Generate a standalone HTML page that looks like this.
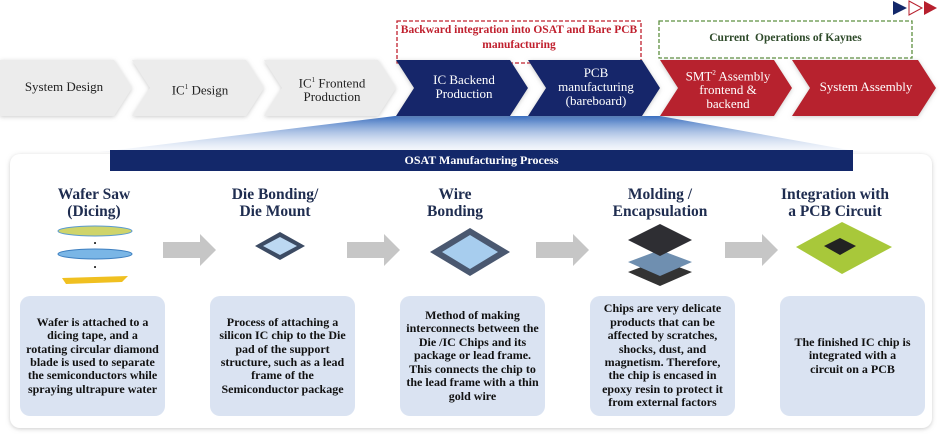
<!DOCTYPE html>
<html><head><meta charset="utf-8"><style>
body{margin:0;width:940px;height:436px;overflow:hidden;background:#fff;font-family:"Liberation Serif",serif;position:relative}
.abs{position:absolute}
.t{position:absolute;text-align:center;color:#1f2d50;font-weight:bold;font-size:15.5px;line-height:17px;width:180px}
.box{position:absolute;top:296px;height:120px;width:145px;box-sizing:border-box;padding:0 6px;background:#dae3f2;border-radius:10px;display:flex;align-items:center;justify-content:center;text-align:center;font-weight:bold;font-size:12px;line-height:13.4px;color:#111}
.c{position:absolute;text-align:center;font-size:13px;line-height:14px;width:120px}
</style></head><body>
<svg class="abs" style="left:0;top:0" width="940" height="436">
<defs>
<linearGradient id="g" x1="0" y1="0" x2="0" y2="1"><stop offset="0" stop-color="#3a6fc0"/><stop offset="1" stop-color="#e8eef8" stop-opacity="0.3"/></linearGradient>
<filter id="sh" x="-5%" y="-5%" width="110%" height="115%"><feDropShadow dx="0" dy="1" stdDeviation="2" flood-color="#999" flood-opacity="0.5"/></filter>
</defs>
<polygon points="893,1 907,8 893,15" fill="#13286a"/>
<polygon points="909,1 922,8 909,15" fill="#fff" stroke="#b7202e" stroke-width="1"/>
<polygon points="924,1 937,8 924,15" fill="#b7202e"/>
<rect x="397" y="21" width="244" height="42" fill="none" stroke="#c0202e" stroke-width="1.3" stroke-dasharray="4,2"/>
<rect x="659" y="21" width="253" height="37" fill="none" stroke="#5e9040" stroke-width="1.3" stroke-dasharray="4,2"/>
<polygon points="395,116 660,116 860,152 100,152" fill="url(#g)"/>
<g filter="url(#sh)">
<polygon points="0,60 114,60 132,88 114,116 0,116" fill="#ececec"/>
<polygon points="132,60 246,60 264,88 246,116 132,116 150,88" fill="#ececec"/>
<polygon points="264,60 378,60 396,88 378,116 264,116 282,88" fill="#ececec"/>
<polygon points="396,60 510,60 528,88 510,116 396,116 414,88" fill="#13286a"/>
<polygon points="528,60 642,60 660,88 642,116 528,116 546,88" fill="#13286a"/>
<polygon points="660,60 774,60 792,88 774,116 660,116 678,88" fill="#b7202e"/>
<polygon points="792,60 918,60 936,88 918,116 792,116 810,88" fill="#b7202e"/>
<rect x="10" y="154" width="922" height="274" rx="10" fill="#fff"/>
</g>
<rect x="110" y="150" width="743" height="21" fill="#13286a"/>
<g fill="#c6c6c6">
<polygon points="163,242 200,242 200,234 216,250 200,266 200,258 163,258"/>
<polygon points="347,242 384,242 384,234 400,250 384,266 384,258 347,258"/>
<polygon points="536,242 573,242 573,234 589,250 573,266 573,258 536,258"/>
<polygon points="725,242 762,242 762,234 778,250 762,266 762,258 725,258"/>
</g>
<ellipse cx="95" cy="231" rx="37" ry="5" fill="#cfd46a" stroke="#5a9ad0"/>
<text x="95" y="246" font-size="8" text-anchor="middle">•</text>
<ellipse cx="95" cy="254" rx="37" ry="5" fill="#7ab6e6" stroke="#3d7fc0"/>
<text x="95" y="270" font-size="8" text-anchor="middle">•</text>
<polygon points="62,278 128,276 122,282 66,284" fill="#f0c020"/>
<polygon points="280,232 305,246 280,260 255,246" fill="#3c4b63"/>
<polygon points="280,237 297,246 280,255 263,246" fill="#bcd8f2"/>
<polygon points="470,228 510,252 470,276 430,252" fill="#4a5870"/>
<polygon points="470,235 498,252 470,269 442,252" fill="#a7cdee"/>
<polygon points="660,260 692,272 660,286 628,272" fill="#333"/>
<polygon points="660,250 692,262 660,276 628,262" fill="#6f8fb0"/>
<polygon points="660,224 692,240 660,256 628,240" fill="#2e2e33"/>
<polygon points="842,222 892,247 842,274 796,247" fill="#a8c83a"/>
<polygon points="840,238 856,246 840,255 824,246" fill="#222"/>
</svg>
<div class="c" style="left:4px;top:80px;color:#222">System Design</div>
<div class="c" style="left:140px;top:80px;color:#222">IC<sup style="font-size:7px">1</sup> Design</div>
<div class="c" style="left:272px;top:73px;color:#222">IC<sup style="font-size:7px">1</sup> Frontend<br>Production</div>
<div class="c" style="left:404px;top:73px;color:#fff">IC Backend<br>Production</div>
<div class="c" style="left:536px;top:66px;color:#fff">PCB<br>manufacturing<br>(bareboard)</div>
<div class="c" style="left:668px;top:66px;color:#fff">SMT<sup style="font-size:7px">2</sup> Assembly<br>frontend &amp;<br>backend</div>
<div class="c" style="left:806px;top:80px;color:#fff">System Assembly</div>
<div class="abs" style="left:397px;top:23px;width:244px;text-align:center;font-size:11.5px;line-height:15px;font-weight:bold;color:#c0202e">Backward integration into OSAT and Bare PCB manufacturing</div>
<div class="abs" style="left:659px;top:32px;width:253px;text-align:center;font-size:11.5px;font-weight:bold;color:#2e4a2a">Current&nbsp; Operations of Kaynes</div>
<div class="abs" style="left:110px;top:153px;width:743px;text-align:center;font-size:12px;font-weight:bold;color:#fff">OSAT Manufacturing Process</div>
<div class="t" style="left:4px;top:186px">Wafer Saw<br>(Dicing)</div>
<div class="t" style="left:185px;top:186px">Die Bonding/<br>Die Mount</div>
<div class="t" style="left:365px;top:186px">Wire<br>Bonding</div>
<div class="t" style="left:570px;top:186px">Molding /<br>Encapsulation</div>
<div class="t" style="left:745px;top:186px">Integration with<br>a PCB Circuit</div>
<div class="box" style="left:20px">Wafer is attached to a dicing tape, and a rotating circular diamond blade is used to separate the semiconductors while spraying ultrapure water</div>
<div class="box" style="left:210px">Process of attaching a silicon IC chip to the Die pad of the support structure, such as a lead frame of the Semiconductor package</div>
<div class="box" style="left:400px">Method of making interconnects between the Die /IC Chips and its package or lead frame. This connects the chip to the lead frame with a thin gold wire</div>
<div class="box" style="left:590px">Chips are very delicate products that can be affected by scratches, shocks, dust, and magnetism. Therefore, the chip is encased in epoxy resin to protect it from external factors</div>
<div class="box" style="left:780px;padding:0 14px">The finished IC chip is integrated with a circuit on a PCB</div>
</body></html>
